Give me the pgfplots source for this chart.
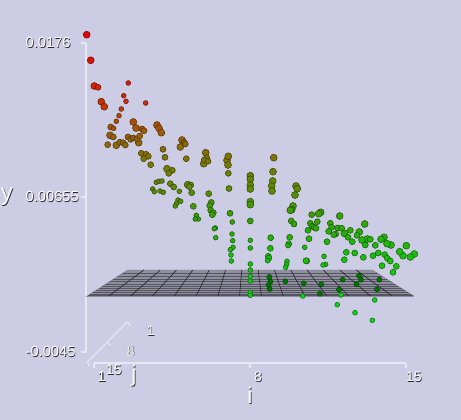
\documentclass[border=0pt]{standalone}
\usepackage{pgfplots}
\usepackage{fontspec}
\setmainfont{Liberation Sans}
\pgfplotsset{compat=1.18}
\definecolor{bg}{RGB}{204,204,229}
\definecolor{axline}{RGB}{232,232,244}
\definecolor{shade}{RGB}{40,40,50}
\newcommand\stxt[1]{\leavevmode\rlap{\kern.5pt\raisebox{-.5pt}{\color{shade}#1}}{\color{white}#1}}
\pgfplotsset{
  dots/.style={only marks, scatter, mark=*, point meta=y, point meta min=35, point meta max=300,
    colormap={rg}{rgb255(0cm)=(228,5,5); rgb255(65cm)=(205,45,8); rgb255(95cm)=(160,90,5);
      rgb255(125cm)=(125,118,5); rgb255(155cm)=(92,138,5); rgb255(185cm)=(52,162,8);
      rgb255(215cm)=(30,186,12); rgb255(265cm)=(15,212,25)},
    scatter/use mapped color={draw=mapped color!52!black, fill=mapped color}},
}
\begin{document}
\begin{tikzpicture}
\path[use as bounding box, fill=bg] (0,0) rectangle (345.75pt,315pt);
% i axis
\begin{axis}[at={(70.5pt,42.75pt)}, anchor=south west, scale only axis, width=234pt, height=10pt,
  xmin=1, xmax=15, ymin=0, ymax=1, axis y line=none, axis x line*=bottom,
  axis line style={axline, line width=1.1pt}, xtick={1,8,15},
  xticklabels={\stxt{1},\stxt{8},\stxt{15}},
  tick style={axline, line width=1pt}, tick align=outside, major tick length=3.5pt,
  xticklabel style={font=\fontsize{10.5}{12}\selectfont, xshift=6pt, yshift=.5pt}]
\end{axis}
% value axis and scene, x and y in screen units
\begin{axis}[at={(64.5pt,51pt)}, anchor=south west, scale only axis, width=240pt, height=231.75pt,
  xmin=86, xmax=406, ymin=43, ymax=352, y dir=reverse, clip=false,
  axis x line=none, axis y line*=left, unbounded coords=jump,
  axis line style={axline, line width=1.1pt},
  ytick={43,197,352}, yticklabels={\stxt{0.0176},\stxt{0.00655},\stxt{-0.0045}},
  tick style={axline, line width=1pt}, tick align=outside, major tick length=3.75pt,
  yticklabel style={font=\fontsize{11}{12}\selectfont, anchor=west, xshift=-45pt}]
% floor plane
\addplot[fill=black!58!bg, draw=none] coordinates {(87,296) (127.5,270) (372.5,270) (414,296)} -- cycle;
% points under the floor
\addplot[only marks, mark=*, mark size=1.9pt, draw=green!30!black, fill=green!45!black] coordinates {
(269.3,277) (270.3,281.7) (268.7,285) (269.7,289) (285.3,281.3) (303.7,283.3) (321.3,284.3) (320,293.7)
(342.7,279.7) (339,289.7) (359,275.7) (361,279.7) (356.7,284.3) (379.3,279.7) (377,289.3)};
% floor rows
\addplot[black!30!bg, line width=.55pt] coordinates {
(127.5,270) (372.5,270) (nan,nan) (125.4,271.3) (374.6,271.3) (nan,nan) (123.2,272.7) (376.8,272.7) (nan,nan)
(121,274.1) (379,274.1) (nan,nan) (118.7,275.6) (381.3,275.6) (nan,nan) (116.3,277.1) (383.7,277.1) (nan,nan)
(113.8,278.7) (386.2,278.7) (nan,nan) (111.2,280.3) (388.8,280.3) (nan,nan) (108.6,282) (391.4,282) (nan,nan)
(105.8,283.8) (394.2,283.8) (nan,nan) (102.9,285.6) (397.1,285.6) (nan,nan) (99.9,287.5) (400.1,287.5) (nan,nan)
(96.7,289.5) (403.3,289.5) (nan,nan) (93.5,291.6) (406.5,291.6) (nan,nan) (90,293.7) (410,293.7) (nan,nan)
(86.5,296) (413.5,296)};
% floor columns
\addplot[black!80!bg, line width=.5pt] coordinates {
(108.8,296) (143.8,270) (nan,nan) (130.6,296) (160.2,270) (nan,nan) (152.4,296) (176.5,270) (nan,nan)
(174.2,296) (192.8,270) (nan,nan) (196,296) (209.2,270) (nan,nan) (217.8,296) (225.5,270) (nan,nan)
(239.6,296) (241.8,270) (nan,nan) (261.4,296) (258.2,270) (nan,nan) (283.2,296) (274.5,270) (nan,nan)
(305,296) (290.8,270) (nan,nan) (326.8,296) (307.2,270) (nan,nan) (348.6,296) (323.5,270) (nan,nan)
(370.4,296) (339.8,270) (nan,nan) (392.2,296) (356.2,270)};
% large points
\addplot[dots, mark size=2.6pt] coordinates {
(86.7,34.7) (90.7,60.3) (94.3,86) (101.3,101.7) (104.3,106.7) (110,135.3) (116.3,145.3) (138.7,142.7)
(133.3,122) (136,128) (157,125) (159,128.3) (161.3,132.7) (182,140) (180.3,147) (203.7,163.7) (205.7,152.7)
(227,160.3) (228.3,156.3) (228,165) (167,168.7) (187.7,184.7) (250.3,175.7) (250.3,179.3) (250.3,185)
(250.3,189) (250.3,201.7) (250.3,204.7) (273.7,157.7) (273,171.7) (272.7,181) (271.7,186) (272,191)
(296,186) (297.3,188.7) (295,195) (293,206) (291.7,209.7) (290.3,210.3) (320.7,212.3) (318.7,213.7)
(339.7,216) (364.7,224) (406.3,245.7) (414.3,254) (410.3,257) (403,255.7) (399.7,251.7) (391,245)
(387,243.7) (384,237.3) (381,239.3) (367.3,239) (359.3,232) (344.3,233.3) (362,240)};
% medium points
\addplot[dots, mark size=2.25pt] coordinates {
(98,87.3) (110.7,127) (113.3,137) (107.7,144.7) (119.7,142.3) (123,142.7) (125.3,145) (128,137) (130.7,139.3)
(133.3,138) (137,138.7) (139.7,136) (142,129) (144,130.7) (184,142.3) (185.3,144) (163,149.3) (165,157.3)
(186.3,158.7) (141.3,153.3) (146,154.3) (148.3,156.3) (143.7,158.7) (150.7,164.7) (206.7,157.7) (204.3,160)
(208,161.3) (228.3,173.3) (229,188.5) (172.3,170.3) (168.7,173.3) (170.3,183.7) (173.7,187) (190.7,185)
(189.3,186.7) (191.7,192.7) (208.7,193.7) (193.3,206.3) (211.3,202.5) (209.7,205.7) (210.7,210.3) (213.3,212.7)
(212.3,214.7) (230,213.3) (250.3,221) (270.7,237.7) (270.3,248.3) (291.3,221) (294,224) (289.7,237.3)
(311.7,214.7) (310.3,223.3) (317.3,221.7) (312.3,226.3) (314,227.3) (316,228.3) (308,230.3) (309,238.7)
(330.3,223.3) (331.7,227.3) (328.7,231.3) (337.7,228) (341.7,228.3) (350.3,230.3) (335.7,234) (333.7,234.7)
(348,237.3) (327,241.7) (352.3,241.7) (357,235.3) (370.3,239.3) (365.3,245) (375.3,245.3) (378.3,253)
(384.7,254.7) (387.3,258.3) (390.3,261) (396.3,266.3) (393,272.3) (382,265.7) (373,255.7) (363.3,257.3)
(354.7,253) (346.3,252.3) (344.3,259.7) (288.7,244) (306.7,261) (306,260.7) (268.3,256.3) (268.7,258.3)};
% small points
\addplot[dots, mark size=1.8pt] coordinates {
(128.3,83) (123.7,95.7) (126,101.3) (145.7,103) (121.3,109) (119,115.7) (116.3,121.3) (113.7,128.3)
(156.3,182.3) (159,181.3) (162,181) (179.3,191.3) (152.7,189) (154.3,191.7) (160,191) (163.3,192.3)
(178,200) (180.7,201.3) (176.7,203.3) (175.3,206) (196.3,215.3) (198.3,219) (195.3,219) (215.3,228)
(214.3,228.7) (215.7,237.7) (232.3,222) (232,234) (232.7,240.7) (233,247.3) (230.3,249.7) (231,255) (231.3,261)
(250.3,240.3) (250.3,248) (250.3,264) (250.3,270) (250.3,276.3) (250.3,281) (250.3,292.3) (250.3,295.3)
(267.7,260.7) (288,245.7) (287,261.3) (286.7,264.3) (285.7,267.3) (302.7,296) (304.7,247.3) (324,256.3)
(325.7,264.3) (323,265) (341,295) (337.3,304.7) (355,312.7) (372.3,320.3) (374.7,300)};
% j axis
\draw[axline, line width=.8pt] (axis cs:89,366) -- (87.5,362) -- (127,322) -- (131,325.5);
\draw[axline, line width=.8pt] (axis cs:107.7,343) -- (110.7,345.5);
\node[font=\fontsize{10.5}{12}\selectfont] at (axis cs:101.5,377.5) {\stxt{1}};
\node[font=\fontsize{10.5}{12}\selectfont] at (axis cs:114,370.5) {\stxt{15}};
\node[font=\fontsize{10.5}{12}\selectfont] at (axis cs:130.7,351.7) {\stxt{8}};
\node[font=\fontsize{10.5}{12}\selectfont] at (axis cs:150.7,331) {\stxt{1}};
\node[font=\fontsize{17}{18}\selectfont] at (axis cs:134,376) {\stxt{j}};
\node[font=\fontsize{17}{18}\selectfont] at (axis cs:250,396) {\stxt{i}};
\node[font=\fontsize{18}{19}\selectfont] at (axis cs:7,197) {\stxt{y}};
\end{axis}
\end{tikzpicture}
\end{document}
